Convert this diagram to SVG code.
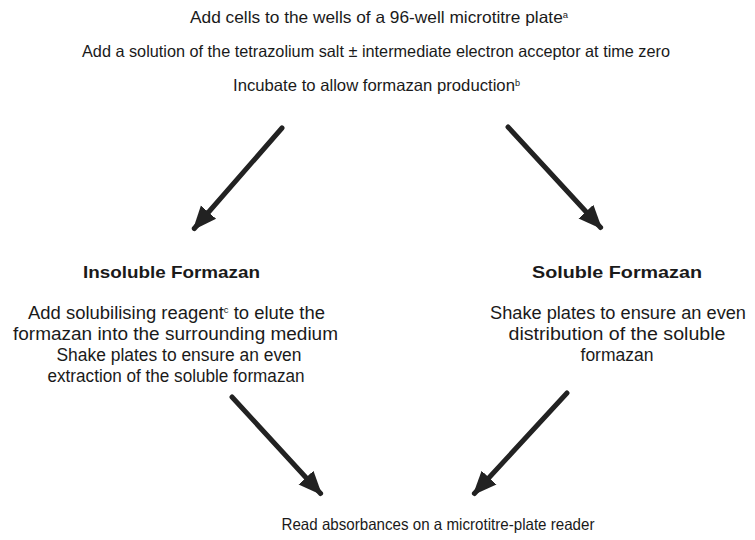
<svg xmlns="http://www.w3.org/2000/svg" width="755" height="540" viewBox="0 0 755 540">
<style>
text{font-family:"Liberation Sans",Arial,sans-serif;fill:#1a1a1a;text-anchor:middle}
.t{font-size:16.5px}
.h{font-weight:bold;font-size:16.5px}
.p{font-size:17.5px}
.sup{font-size:9px}
.arr{stroke:#222;stroke-width:5;fill:none;stroke-linecap:round;marker-end:url(#ah)}
</style>
<defs>
<marker id="ah" viewBox="0 0 10 10" refX="9" refY="5" markerWidth="4.8" markerHeight="4.8" orient="auto" markerUnits="strokeWidth">
<path d="M0,0.8 L10,5 L0,9.2 z" fill="#222"/>
</marker>
</defs>
<rect width="755" height="540" fill="#fff"/>
<g id="top">
<text class="t" x="379" y="23" textLength="378" lengthAdjust="spacingAndGlyphs">Add cells to the wells of a 96-well microtitre plate<tspan class="sup" dy="-5">a</tspan></text>
<text class="t" x="376" y="57" textLength="588" lengthAdjust="spacingAndGlyphs">Add a solution of the tetrazolium salt ± intermediate electron acceptor at time zero</text>
<text class="t" x="376.5" y="91" textLength="287" lengthAdjust="spacingAndGlyphs">Incubate to allow formazan production<tspan class="sup" dy="-5">b</tspan></text>
</g>
<g id="insoluble">
<text class="h" x="171.5" y="278" textLength="177" lengthAdjust="spacingAndGlyphs">Insoluble Formazan</text>
<text class="p" x="176.5" y="319" textLength="297" lengthAdjust="spacingAndGlyphs">Add solubilising reagent<tspan class="sup" dy="-6">c</tspan><tspan dy="6"> to elute the</tspan></text>
<text class="p" x="175.5" y="340" textLength="325" lengthAdjust="spacingAndGlyphs">formazan into the surrounding medium</text>
<text class="p" x="179" y="361" textLength="245" lengthAdjust="spacingAndGlyphs">Shake plates to ensure an even</text>
<text class="p" x="176" y="382" textLength="257" lengthAdjust="spacingAndGlyphs">extraction of the soluble formazan</text>
</g>
<g id="soluble">
<text class="h" x="617" y="278" textLength="170" lengthAdjust="spacingAndGlyphs">Soluble Formazan</text>
<text class="p" x="618" y="319" textLength="256" lengthAdjust="spacingAndGlyphs">Shake plates to ensure an even</text>
<text class="p" x="617" y="340" textLength="217" lengthAdjust="spacingAndGlyphs">distribution of the soluble</text>
<text class="p" x="617" y="361">formazan</text>
</g>
<g id="read">
<text class="t" x="438" y="530" textLength="313" lengthAdjust="spacingAndGlyphs">Read absorbances on a microtitre-plate reader</text>
</g>
<g id="connectors">
<line class="arr" x1="282" y1="128" x2="194.3" y2="228.5"/>
<line class="arr" x1="508" y1="127" x2="600.6" y2="227.5"/>
<line class="arr" x1="232" y1="397" x2="320.6" y2="493.5"/>
<line class="arr" x1="567" y1="393" x2="474.4" y2="493.5"/>
</g>
</svg>
